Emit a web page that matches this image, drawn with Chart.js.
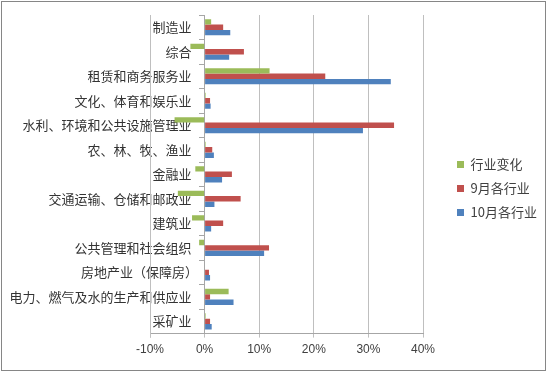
<!DOCTYPE html>
<html>
<head>
<meta charset="utf-8">
<script src="https://cdn.jsdelivr.net/npm/chart.js@4.4.0/dist/chart.umd.min.js"></script>
<style>
  html, body { margin: 0; padding: 0; background: #fff; }
  #wrap { width: 547px; height: 373px; }
</style>
</head>
<body>
<div id="wrap"><canvas id="industryChart" width="547" height="373"></canvas></div>
<script>
// 行业分类（自上而下）
const industries = [
    '制造业', '综合', '租赁和商务服务业', '文化、体育和娱乐业',
    '水利、环境和公共设施管理业', '农、林、牧、渔业', '金融业',
    '交通运输、仓储和邮政业', '建筑业', '公共管理和社会组织',
    '房地产业（保障房）', '电力、燃气及水的生产和供应业', '采矿业'
];
// 单位：%
const changeValues = [1.2, -2.6, 11.9, 0.2, -5.5, 0.2, -1.7, -4.9, -2.3, -1.0, 0, 4.4, 0.2];
const septValues = [3.4, 7.2, 22.1, 1.0, 34.7, 1.4, 5.0, 6.6, 3.4, 11.8, 0.8, 1.0, 1.0];
const octValues = [4.7, 4.5, 34.1, 1.1, 29.0, 1.7, 3.2, 1.8, 1.2, 10.9, 1.0, 5.3, 1.3];
const xTicks = [-10, 0, 10, 20, 30, 40];

const frame = {
    id: 'frame',
    beforeDraw(chart) {
        const ctx = chart.ctx;
        ctx.save();
        ctx.fillStyle = '#ffffff';
        ctx.fillRect(0, 0, chart.width, chart.height);
        ctx.strokeStyle = '#868686';
        ctx.lineWidth = 1;
        ctx.strokeRect(1.5, 1.5, 544, 369);
        ctx.restore();
    },
    // the -10% gridline at the left edge of the plot
    beforeDatasetsDraw(chart) {
        const ctx = chart.ctx;
        const area = chart.chartArea;
        const x = Math.round(chart.scales.x.getPixelForValue(xTicks[0])) + 0.5;
        ctx.save();
        ctx.strokeStyle = '#bfbfbf';
        ctx.lineWidth = 1;
        ctx.beginPath();
        ctx.moveTo(x, area.top);
        ctx.lineTo(x, area.bottom + 4);
        ctx.stroke();
        ctx.restore();
    }
};

// push legend a bit away from the plot, like the original
const legendShift = {
    id: 'legendShift',
    afterLayout(chart) {
        chart.legend.left += 23;
        chart.legend.right += 23;
    }
};

const data = {
    labels: industries,
    datasets: [
        { label: '行业变化', backgroundColor: '#9bbb59', data: changeValues },
        { label: '9月各行业', backgroundColor: '#c0504d', data: septValues },
        { label: '10月各行业', backgroundColor: '#4f81bd', data: octValues }
    ]
};

const config = {
    type: 'bar',
    data: data,
    options: {
        indexAxis: 'y',
        responsive: false,
        animation: false,
        categoryPercentage: 0.66,
        barPercentage: 1.0,
        layout: { padding: { left: 150, top: 15, right: 33, bottom: 11 } },
        scales: {
            x: {
                min: -10,
                max: 40,
                afterBuildTicks: function (scale) {
                    scale.ticks = xTicks.map(v => ({ value: v }));
                },
                grid: { color: '#bfbfbf', tickLength: 4 },
                border: { color: '#a6a6a6' },
                ticks: {
                    padding: 5,
                    color: '#404040',
                    font: { family: 'Liberation Sans', size: 12 },
                    callback: v => v + '%'
                }
            },
            // axis crosses at 0%, labels sit just left of it
            y: {
                position: { x: 0 },
                grid: { drawOnChartArea: false, tickLength: 5, color: '#a6a6a6' },
                border: { color: '#a6a6a6' },
                ticks: {
                    autoSkip: false,
                    color: '#333333',
                    font: { family: 'Noto Sans CJK SC', size: 13 },
                    callback: function (v) {
                        return this.getLabelForValue(v) + '\u3000';
                    }
                }
            }
        },
        plugins: {
            legend: {
                position: 'right',
                labels: {
                    boxWidth: 7,
                    boxHeight: 7,
                    padding: 11,
                    color: '#404040',
                    font: { family: 'Noto Sans CJK SC', size: 13 }
                }
            },
            tooltip: { enabled: false }
        }
    },
    plugins: [frame, legendShift]
};

new Chart(document.getElementById('industryChart'), config);
</script>
</body>
</html>
